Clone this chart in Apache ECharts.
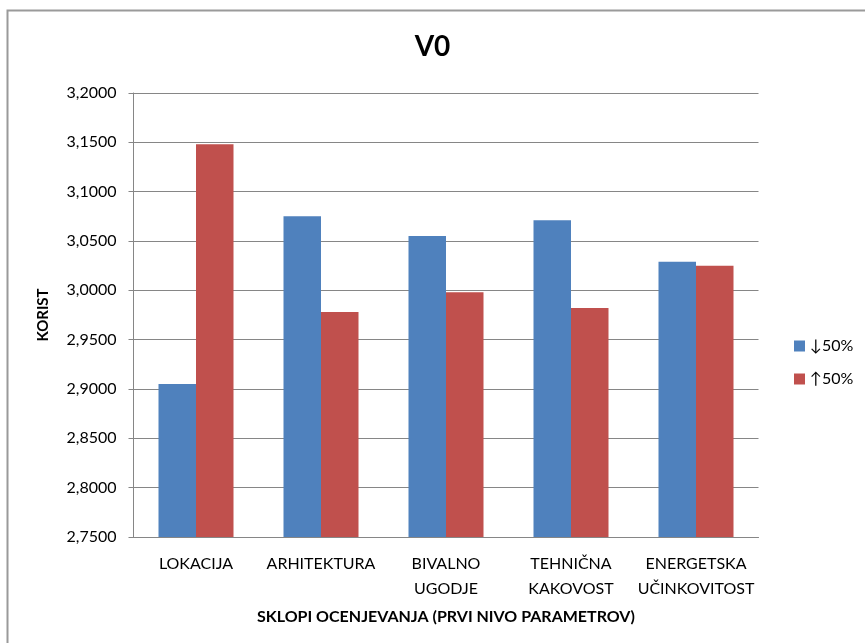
<!DOCTYPE html>
<html>
<head>
<meta charset="utf-8">
<title>V0</title>
<script src="https://cdn.jsdelivr.net/npm/echarts@6/dist/echarts.min.js"></script>
<style>
  html, body { margin: 0; padding: 0; background: #fff; }
  #graf_v0 { width: 865px; height: 643px; }
</style>
</head>
<body>
<div id="graf_v0"></div>
<script>
// podatki (odčitano s slike)
var kategorije = ["LOKACIJA", "ARHITEKTURA", "BIVALNO\nUGODJE", "TEHNIČNA\nKAKOVOST", "ENERGETSKA\nUČINKOVITOST"];
var imeDol = "↓50%";
var imeGor = "↑50%";
var vrednostiDol = [2.905, 3.075, 3.055, 3.071, 3.029];
var vrednostiGor = [3.148, 2.978, 2.998, 2.982, 3.025];
var yMin = 2.75;
var yMax = 3.2;
var yKorak = 0.05;

var pisava = "Lato, 'Noto Sans', 'DejaVu Sans', sans-serif";
var sivaCrta = "#868686";

var myChart = echarts.init(document.getElementById("graf_v0"));
var option = {
  backgroundColor: "#fff",
  textStyle: {
    fontFamily: pisava,
    color: "#000"
  },
  // okvir okrog grafa
  graphic: [
    {
      type: "rect",
      shape: { x: 7.5, y: 10.5, width: 900, height: 700 },
      style: { fill: "none", stroke: "#9a9a9a", lineWidth: 2 },
      silent: true
    }
  ],
  title: {
    text: "V0",
    left: "center",
    top: 28,
    textStyle: {
      fontFamily: pisava,
      fontSize: 28,
      fontWeight: "bold",
      color: "#000"
    }
  },
  legend: {
    orient: "vertical",
    left: 789,
    top: 333,
    itemWidth: 11,
    itemHeight: 11,
    itemGap: 17,
    icon: "rect",
    textStyle: {
      fontFamily: pisava,
      fontSize: 16,
      color: "#000"
    },
    data: [imeDol, imeGor]
  },
  grid: {
    left: 133.5,
    right: 106.5,
    top: 93,
    bottom: 106
  },
  xAxis: {
    type: "category",
    data: kategorije,
    name: "SKLOPI OCENJEVANJA (PRVI NIVO PARAMETROV)",
    nameLocation: "middle",
    nameGap: 72,
    nameTextStyle: {
      fontFamily: pisava,
      fontSize: 16,
      fontWeight: "bold",
      color: "#000"
    },
    axisLine: { lineStyle: { color: sivaCrta, width: 1 } },
    axisTick: { show: false },
    axisLabel: {
      margin: 14,
      fontSize: 16,
      lineHeight: 25,
      color: "#000",
      interval: 0
    }
  },
  yAxis: {
    type: "value",
    min: yMin,
    max: yMax,
    interval: yKorak,
    name: "KORIST",
    nameLocation: "middle",
    nameRotate: 90,
    nameGap: 83,
    nameTextStyle: {
      fontFamily: pisava,
      fontSize: 15,
      fontWeight: "bold",
      color: "#000"
    },
    axisLine: { show: true, lineStyle: { color: sivaCrta, width: 1 } },
    axisTick: { show: true, inside: false, length: 5, lineStyle: { color: sivaCrta } },
    splitLine: { show: true, lineStyle: { color: sivaCrta, width: 1 } },
    axisLabel: {
      margin: 17,
      fontSize: 16,
      color: "#000",
      formatter: function (v) {
        return v.toFixed(4).replace(".", ",");
      }
    }
  },
  series: [
    {
      name: imeDol,
      type: "bar",
      data: vrednostiDol,
      barGap: "0%",
      barCategoryGap: "40%",
      itemStyle: { color: "#4F81BD" }
    },
    {
      name: imeGor,
      type: "bar",
      data: vrednostiGor,
      barGap: "0%",
      barCategoryGap: "40%",
      itemStyle: { color: "#C0504D" }
    }
  ]
};
myChart.setOption(option);
</script>
</body>
</html>
